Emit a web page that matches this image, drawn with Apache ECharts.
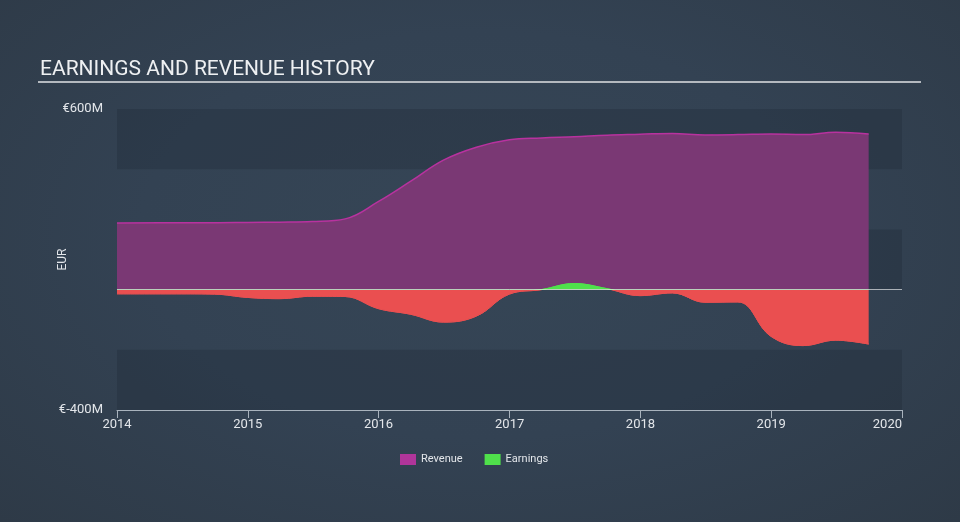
<!DOCTYPE html>
<html>
<head>
<meta charset="utf-8">
<script src="https://cdn.jsdelivr.net/npm/echarts@6/dist/echarts.min.js"></script>
<style>
html,body{margin:0;padding:0;width:960px;height:522px;overflow:hidden;
background:radial-gradient(ellipse at 50% 45%, #364656 0%, #334253 50%, #2e3a47 100%);}
#chart{width:960px;height:522px;}
</style>
</head>
<body>
<div id="chart"></div>
<script>
const dates = ['2014-01-01','2014-06-30','2014-09-30','2014-12-31','2015-03-31','2015-06-30','2015-09-30','2015-12-31',
  '2016-03-31','2016-06-30','2016-09-30','2016-12-31','2017-03-31','2017-06-30','2017-09-30','2017-12-31',
  '2018-03-31','2018-06-30','2018-09-30','2018-12-31','2019-03-31','2019-06-30','2019-09-30'];
const revenue = [221,222,222,223,224,226,235,292,360,430,473,498,504,508,513,516,519,514,515,517,515,523,517];
const earnings = [-14,-14,-15,-26,-30,-22,-23,-63,-82,-108,-88,-15,0,20,3,-20,-11,-42,-41,-155,-186,-168,-181];
const yTickLabels = {600:'€600M', '-400':'€-400M'};
const seriesNames = ['Revenue','Earnings'];

const chart = echarts.init(document.getElementById('chart'), null, {renderer:'canvas'});
const F = 'Roboto, "Liberation Sans", sans-serif';
const RED = '#ea4f50', GREEN = '#4fe04b';
chart.setOption({
  backgroundColor: 'transparent',
  animation: false,
  title: {text:'EARNINGS AND REVENUE HISTORY', left:35, top:54,
    textStyle:{color:'#eef0f2', fontSize:21, fontWeight:'normal', fontFamily:F}},
  graphic: [{type:'line', shape:{x1:38,y1:82,x2:921,y2:82}, style:{stroke:'#b4b9bf', lineWidth:2}}],
  legend: {data: seriesNames, left:395, top:449, itemWidth:16, itemHeight:11, itemGap:22, icon:'rect',
    textStyle:{color:'#e3e6ea', fontSize:11, fontFamily:F}},
  grid: {left:117, right:58, top:109, bottom:112},
  xAxis: {type:'time', min:'2014-01-01', max:'2020-01-01',
    axisLine:{onZero:false, lineStyle:{color:'#a9b3bd'}},
    axisTick:{show:true, length:8, lineStyle:{color:'#a9b3bd'}},
    splitLine:{show:false},
    axisLabel:{formatter:'{yyyy}', color:'#e3e6ea', fontSize:13, fontFamily:F, margin:8,
      showMinLabel:true, showMaxLabel:true, alignMaxLabel:'right'}},
  yAxis: {type:'value', min:-400, max:600, interval:200,
    name:'EUR', nameLocation:'middle', nameGap:48, nameRotate:90, nameMoveOverlap:false,
    nameTextStyle:{color:'#e3e6ea', fontSize:12, fontFamily:F},
    axisLine:{show:false}, axisTick:{show:false}, splitLine:{show:false},
    splitArea:{show:true, areaStyle:{color:['rgba(30,40,52,0.3)','rgba(0,0,0,0)']}},
    axisLabel:{color:'#e3e6ea', fontSize:13, fontFamily:F, margin:14,
      formatter: v => yTickLabels[String(v)] || ''}},
  series: [
    {name:'Revenue', type:'line', smooth:0.4, symbol:'none',
      data: dates.map((d,i)=>[d, revenue[i]]),
      itemStyle:{color:'#b0359a'},
      lineStyle:{color:'#b8329f', width:1.5},
      areaStyle:{color:'#7a3874', opacity:1}, z:2},
    {name:'Earnings', type:'line', smooth:0.4, symbol:'none',
      data: dates.map((d,i)=>[d, earnings[i]]),
      itemStyle:{color:GREEN},
      lineStyle:{width:1, color:RED},
      areaStyle:{opacity:1, color:RED}, z:3,
      markLine:{silent:true, symbol:'none', label:{show:false},
        lineStyle:{color:'rgba(255,255,255,0.6)', type:'solid', width:1},
        data:[{yAxis:0}]}}
  ]
});
// split earnings colour at zero using the chart's own y scale
const yTop = chart.convertToPixel({yAxisIndex:0}, 600);
const yBot = chart.convertToPixel({yAxisIndex:0}, -400);
const y0 = chart.convertToPixel({yAxisIndex:0}, 0);
const f = (y0 - yTop) / (yBot - yTop);
const grad = () => new echarts.graphic.LinearGradient(0, yTop, 0, yBot, [
  {offset:0, color:GREEN},{offset:f, color:GREEN},{offset:f, color:RED},{offset:1, color:RED}], true);
chart.setOption({series:[{}, {lineStyle:{color:grad()}, areaStyle:{color:grad(), opacity:1}}]});
</script>
</body>
</html>
